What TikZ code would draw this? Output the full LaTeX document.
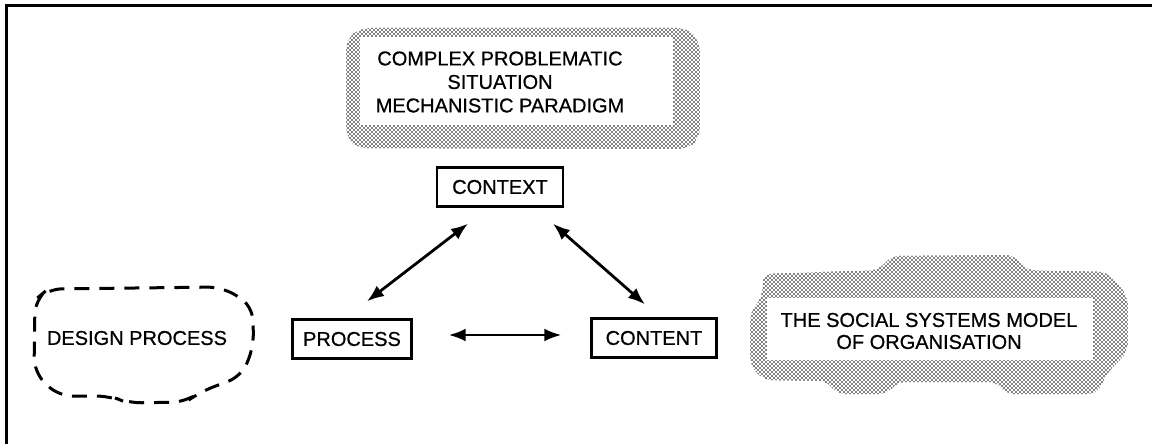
\documentclass[tikz,border=0pt]{standalone}
\usepackage{fontspec}
\setmainfont{Liberation Sans}[FakeBold=0.7]
\usetikzlibrary{patterns,arrows.meta}

% halftone dot screen used for the shaded clouds
\pgfdeclarepatternformonly{halftone}{\pgfqpoint{-1pt}{-1pt}}{\pgfqpoint{3pt}{3pt}}{\pgfqpoint{4pt}{4pt}}{%
  \pgfpathcircle{\pgfqpoint{0pt}{0pt}}{0.95pt}%
  \pgfpathcircle{\pgfqpoint{2pt}{2pt}}{0.95pt}%
  \pgfusepath{fill}%
}

\tikzset{
  label/.style={font=\fontsize{20}{23.5}\selectfont, align=center, inner sep=0pt},
  boxnode/.style={draw, line width=2.3pt, font=\fontsize{20}{24}\selectfont,
                  minimum height=39pt, inner sep=0pt},
  link/.style={line width=2.8pt, {Latex[length=17pt,width=13pt]}-{Latex[length=17pt,width=13pt]}},
  shade/.style={pattern=halftone, pattern color=black},
}

\begin{document}
\begin{tikzpicture}[x=1pt, y=-1pt]
\useasboundingbox (0,0) rectangle (1152,444);

% frame (top and left edges)
\draw[line width=3pt] (6,444) -- (6,6) -- (1152,6);

% shaded cloud: complex problematic situation
\path[shade, rounded corners=10pt]
  (360,28) -- (688,28) -- (700,42) -- (700,138) -- (688,149) -- (356,148)
  -- (346,136) -- (346,40) -- cycle;
\fill[white] (360,37) rectangle (673,125);
\node[label] (sit) at (500,82) {COMPLEX PROBLEMATIC\\SITUATION\\MECHANISTIC PARADIGM};

% shaded cloud: social systems model
\path[shade, rounded corners=9pt]
  (763,274) -- (880,270) -- (890,256) -- (1015,255) -- (1025,270) -- (1108,272)
  -- (1128,296) -- (1128,352) -- (1108,372) -- (1097,394) -- (1005,394)
  -- (998,382) -- (896,382) -- (888,394) -- (836,394) -- (828,381)
  -- (763,380) -- (750,365) -- (750,312) -- (762,298) -- cycle;
\fill[white] (767,298) rectangle (1093,360);
\node[label, font=\fontsize{20}{22}\selectfont] (ssm) at (929,331) {THE SOCIAL SYSTEMS MODEL\\OF ORGANISATION};

% dashed cloud: design process
\draw[line width=3pt, dash pattern=on 15pt off 10pt, rounded corners=14pt]
  (35,300) -- (48,289) -- (222,287) -- (252,305) -- (254,345) -- (242,376)
  -- (200,392) -- (186,402) -- (128,403) -- (110,396) -- (58,396) -- (34,372) -- cycle;
\node[label] (dp) at (137,338) {DESIGN PROCESS};

% the three elements
\node[boxnode, minimum width=126pt] (ctx) at (500,187) {CONTEXT};
\node[boxnode, minimum width=119pt] (proc) at (352,339) {PROCESS};
\node[boxnode, minimum width=125pt] (cont) at (654,338) {CONTENT};

% relations between the elements
\draw[link] ([shift={(-32,16)}]ctx.south) -- ([shift={(15,-17)}]proc.north);
\draw[link] ([shift={(53,16)}]ctx.south) -- ([shift={(-9,-13)}]cont.north);
\draw[link] ([shift={(36,-4)}]proc.east) -- ([shift={(-29,-3)}]cont.west);
\end{tikzpicture}
\end{document}
